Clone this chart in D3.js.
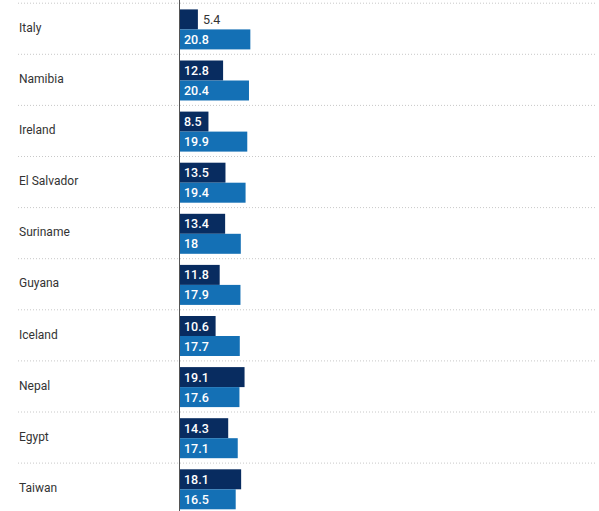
<!DOCTYPE html>
<html>
<head>
<meta charset="utf-8">
<script src="https://cdn.jsdelivr.net/npm/d3@7"></script>
<style>
  html, body { margin: 0; padding: 0; background: #fff; }
  svg { display: block; font-family: Roboto, "Noto Sans", sans-serif; }
</style>
</head>
<body>
<svg id="chart" width="599" height="511"></svg>
<script>
const countries = ["Italy", "Namibia", "Ireland", "El Salvador", "Suriname", "Guyana", "Iceland", "Nepal", "Egypt", "Taiwan"];
const seriesA = [5.4, 12.8, 8.5, 13.5, 13.4, 11.8, 10.6, 19.1, 14.3, 18.1];
const seriesB = [20.8, 20.4, 19.9, 19.4, 18, 17.9, 17.7, 17.6, 17.1, 16.5];
const seriesKeys = ["a", "b"];
const colors = { a: "#082c60", b: "#1470b5" };

const svg = d3.select("#chart");
const W = 599, H = 511;
const x0 = 179.5;

const x = d3.scaleLinear().domain([0, 122]).range([x0, 595]);
const y = d3.scaleBand().domain(countries).range([3.2, 3.2 + 51.1 * 10]).paddingInner(0).paddingOuter(0);
const yInner = d3.scaleBand().domain(seriesKeys).range([6.2, 46.2]).padding(0);

// separators
const seps = countries.map((c) => y(c));
svg.append("g").selectAll("line").data(seps).join("line")
  .attr("x1", 18).attr("x2", 595)
  .attr("y1", d => d).attr("y2", d => d)
  .attr("stroke", "#c8c8c8").attr("stroke-width", 1)
  .attr("stroke-dasharray", "1,2");

// country labels
svg.append("g").selectAll("text").data(countries).join("text")
  .attr("x", 19)
  .attr("y", d => y(d) + y.bandwidth() / 2 - 1)
  .attr("dy", "0.35em")
  .attr("font-size", 12)
  .attr("fill", "#333")
  .text(d => d);

const rows = countries.map((c, i) => ({ c, a: seriesA[i], b: seriesB[i] }));

const g = svg.append("g");
rows.forEach(r => {
  seriesKeys.forEach(k => {
    const v = r[k];
    const by = y(r.c) + yInner(k);
    const bw = x(v) - x(0);
    g.append("rect")
      .attr("x", x(0)).attr("y", by)
      .attr("width", bw).attr("height", yInner.bandwidth())
      .attr("fill", colors[k]);
    const label = String(v);
    const inside = bw > 24;
    g.append("text")
      .attr("x", inside ? x(0) + 4.5 : x(v) + 5)
      .attr("y", by + yInner.bandwidth() / 2)
      .attr("dy", "0.36em")
      .attr("font-size", 12.5)
      .attr("font-weight", inside ? 500 : 400)
      .attr("fill", inside ? "#fff" : "#333")
      .text(label);
  });
});

// zero axis line
svg.append("line")
  .attr("x1", x(0)).attr("x2", x(0))
  .attr("y1", 0).attr("y2", H)
  .attr("stroke", "#555").attr("stroke-width", 1);
</script>
</body>
</html>
